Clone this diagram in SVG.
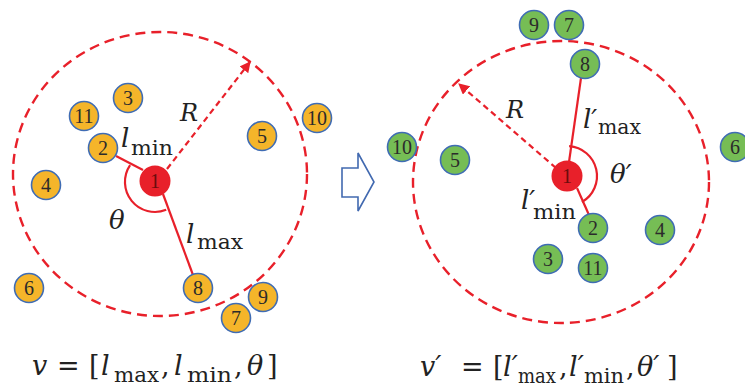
<svg xmlns="http://www.w3.org/2000/svg" width="745" height="388" viewBox="0 0 745 388">
<defs>
<style>
.bg{fill:#ffffff}
.orange{fill:#F5B52A;stroke:#3F6CB4;stroke-width:1.6}
.green{fill:#76BD55;stroke:#3F6CB4;stroke-width:1.6}
.center{fill:#E8202A}
.num{font-family:"Liberation Serif",serif;font-size:20px;fill:#2b2b2b;text-anchor:middle;dominant-baseline:central}
.num1{font-family:"Liberation Serif",serif;font-size:20px;fill:#6a0c0c;text-anchor:middle;dominant-baseline:central}
.range{fill:none;stroke:#E8202A;stroke-width:2.4;stroke-dasharray:10 6}
.rad{fill:none;stroke:#E8202A;stroke-width:2.2;stroke-dasharray:6 4}
.edge{fill:none;stroke:#E8202A;stroke-width:2.2}
.it{font-family:"DejaVu Serif",serif;font-style:italic;fill:#222}
.up{font-family:"DejaVu Serif",serif;fill:#222}
.blk{fill:#ffffff;stroke:#4169B0;stroke-width:1.6}
</style>
<marker id="ah" viewBox="0 0 10 10" refX="9" refY="5" markerWidth="11" markerHeight="11" markerUnits="userSpaceOnUse" orient="auto">
<path d="M0,0 L10,5 L0,10 Z" fill="#E8202A"/>
</marker>
</defs>
<rect class="bg" x="0" y="0" width="745" height="388"/>

<g id="ranges">
<ellipse class="range" cx="160" cy="174" rx="147" ry="142"/>
<ellipse class="range" cx="561" cy="182" rx="148" ry="141"/>
</g>

<g id="connectors">
<line class="rad" x1="167" y1="169" x2="250" y2="62" marker-end="url(#ah)"/>
<line class="edge" x1="116" y1="156" x2="143" y2="170"/>
<line class="edge" x1="163" y1="194" x2="193" y2="275"/>
<path class="edge" d="M130.1,165.2 A30,30 0 0 0 166.2,209.8"/>
<line class="rad" x1="556" y1="168" x2="459" y2="84" marker-end="url(#ah)"/>
<line class="edge" x1="569" y1="162" x2="581" y2="78"/>
<line class="edge" x1="577" y1="188" x2="589" y2="215"/>
<path class="edge" d="M569.1,146.1 A30,30 0 0 1 582,202"/>
</g>

<g id="transform-arrow">
<polygon class="blk" points="342,168 358,168 358,153 374,182 358,211 358,197 342,197"/>
</g>

<g id="left-nodes">
<g id="L1"><circle class="center" cx="155" cy="181" r="15.5"/><text class="num1" x="155" y="181">1</text></g>
<g id="L2"><circle class="orange" cx="103" cy="148" r="14.5"/><text class="num" x="103" y="148">2</text></g>
<g id="L3"><circle class="orange" cx="128" cy="98" r="14.5"/><text class="num" x="128" y="98">3</text></g>
<g id="L4"><circle class="orange" cx="46" cy="185" r="14.5"/><text class="num" x="46" y="185">4</text></g>
<g id="L5"><circle class="orange" cx="262" cy="136" r="14.5"/><text class="num" x="262" y="136">5</text></g>
<g id="L6"><circle class="orange" cx="29" cy="288" r="14.5"/><text class="num" x="29" y="288">6</text></g>
<g id="L7"><circle class="orange" cx="236" cy="318" r="14.5"/><text class="num" x="236" y="318">7</text></g>
<g id="L8"><circle class="orange" cx="198" cy="288" r="14.5"/><text class="num" x="198" y="288">8</text></g>
<g id="L9"><circle class="orange" cx="263" cy="297" r="14.5"/><text class="num" x="263" y="297">9</text></g>
<g id="L10"><circle class="orange" cx="317" cy="118" r="14.5"/><text class="num" x="317" y="118">10</text></g>
<g id="L11"><circle class="orange" cx="84" cy="116" r="14.5"/><text class="num" x="84" y="116">11</text></g>
</g>

<g id="right-nodes">
<g id="R1"><circle class="center" cx="567" cy="176" r="15.5"/><text class="num1" x="567" y="176">1</text></g>
<g id="R2"><circle class="green" cx="593" cy="228" r="14.5"/><text class="num" x="593" y="228">2</text></g>
<g id="R3"><circle class="green" cx="548" cy="259" r="14.5"/><text class="num" x="548" y="259">3</text></g>
<g id="R4"><circle class="green" cx="660" cy="230" r="14.5"/><text class="num" x="660" y="230">4</text></g>
<g id="R5"><circle class="green" cx="455" cy="160" r="14.5"/><text class="num" x="455" y="160">5</text></g>
<g id="R6"><circle class="green" cx="735" cy="147" r="14.5"/><text class="num" x="735" y="147">6</text></g>
<g id="R7"><circle class="green" cx="569" cy="25" r="14.5"/><text class="num" x="569" y="25">7</text></g>
<g id="R8"><circle class="green" cx="585" cy="64" r="14.5"/><text class="num" x="585" y="64">8</text></g>
<g id="R9"><circle class="green" cx="534" cy="25" r="14.5"/><text class="num" x="534" y="25">9</text></g>
<g id="R10"><circle class="green" cx="402" cy="147" r="14.5"/><text class="num" x="402" y="147">10</text></g>
<g id="R11"><circle class="green" cx="593" cy="268" r="14.5"/><text class="num" x="593" y="268">11</text></g>
</g>

<g id="labels">
<text class="it" x="121" y="147" font-size="26">l</text>
<text class="up" x="131" y="155" font-size="20" textLength="42" lengthAdjust="spacingAndGlyphs">min</text>
<text class="it" x="180" y="121" font-size="24">R</text>
<text class="it" x="109" y="229" font-size="26">θ</text>
<text class="it" x="186" y="243" font-size="26">l</text>
<text class="up" x="197" y="249" font-size="20" textLength="46" lengthAdjust="spacingAndGlyphs">max</text>

<text class="it" x="506" y="118" font-size="24">R</text>
<text class="it" x="583" y="128" font-size="26">l′</text>
<text class="up" x="598" y="134" font-size="20" textLength="43" lengthAdjust="spacingAndGlyphs">max</text>
<text class="it" x="610" y="183" font-size="26">θ′</text>
<text class="it" x="521" y="209" font-size="26">l′</text>
<text class="up" x="533" y="219" font-size="20" textLength="43" lengthAdjust="spacingAndGlyphs">min</text>
</g>

<g id="formula-left">
<text class="it" x="32" y="375" font-size="27">v</text>
<text class="up" x="57" y="375" font-size="27">=</text>
<text class="up" x="89" y="375" font-size="27">[</text>
<text class="it" x="101" y="375" font-size="27">l</text>
<text class="up" x="114" y="382" font-size="20" textLength="45" lengthAdjust="spacingAndGlyphs">max</text>
<text class="up" x="161" y="375" font-size="27">,</text>
<text class="it" x="174" y="375" font-size="27">l</text>
<text class="up" x="187" y="382" font-size="20" textLength="45" lengthAdjust="spacingAndGlyphs">min</text>
<text class="up" x="234" y="375" font-size="27">,</text>
<text class="it" x="247" y="375" font-size="27">θ</text>
<text class="up" x="267" y="375" font-size="27">]</text>
</g>

<g id="formula-right">
<text class="it" x="420" y="376" font-size="27">v′</text>
<text class="up" x="461" y="376" font-size="27">=</text>
<text class="up" x="493" y="376" font-size="27">[</text>
<text class="it" x="503" y="376" font-size="27">l′</text>
<text class="up" x="518" y="383" font-size="20" textLength="38" lengthAdjust="spacingAndGlyphs">max</text>
<text class="up" x="559" y="376" font-size="27">,</text>
<text class="it" x="569" y="376" font-size="27">l′</text>
<text class="up" x="584" y="383" font-size="20" textLength="40" lengthAdjust="spacingAndGlyphs">min</text>
<text class="up" x="626" y="376" font-size="27">,</text>
<text class="it" x="637" y="376" font-size="27">θ′</text>
<text class="up" x="667" y="376" font-size="27">]</text>
</g>
</svg>
